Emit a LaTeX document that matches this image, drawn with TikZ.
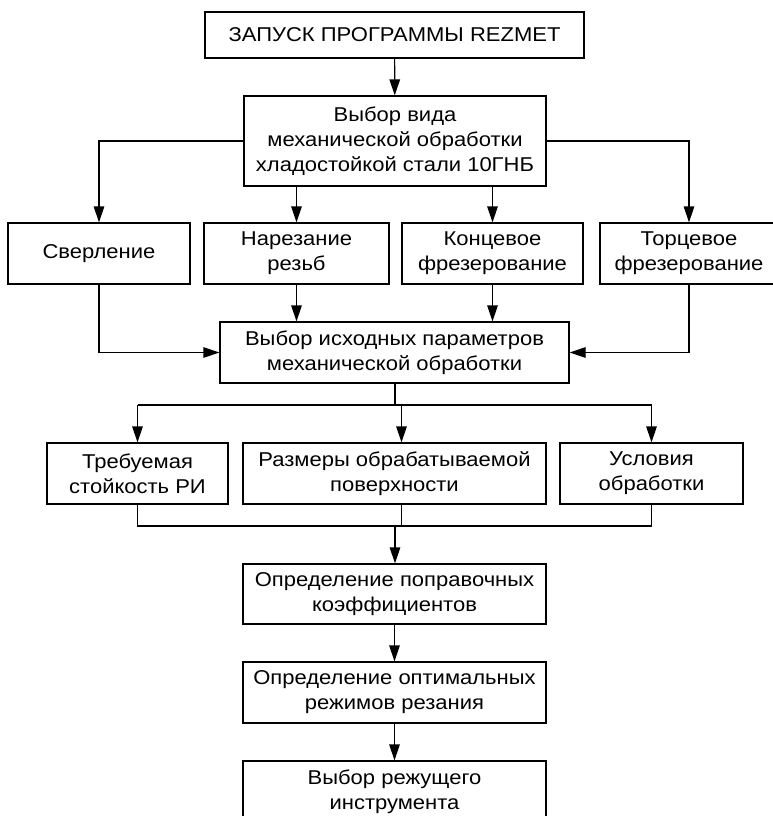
\documentclass[tikz,border=0pt]{standalone}
\usepackage{fontspec}
\setmainfont[FakeStretch=1.1]{Liberation Sans}
\usetikzlibrary{arrows.meta}

\begin{document}
\begin{tikzpicture}[x=1pt,y=-1pt,line width=1.2pt,
  blk/.style={draw,inner sep=0pt,align=center,font=\fontsize{20}{25}\selectfont},
  arr/.style={-{Triangle[length=16pt,width=10.5pt]}}]
  \useasboundingbox (0,0) rectangle (772,816);
  % top
  \node[blk,minimum width=379pt,minimum height=46pt] (start) at (394.5,35) {ЗАПУСК ПРОГРАММЫ REZMET};
  \node[blk,minimum width=302pt,minimum height=90pt] (choice) at (395,141) {Выбор вида\\механической обработки\\хладостойкой стали 10ГНБ};
  % kinds of machining
  \node[blk,minimum width=182pt,minimum height=61pt] (drill) at (99,253.5) {Сверление};
  \node[blk,minimum width=185pt,minimum height=61pt] (thread) at (296.5,253.5) {Нарезание\\резьб};
  \node[blk,minimum width=181pt,minimum height=61pt] (endmill) at (492.5,253.5) {Концевое\\фрезерование};
  \node[blk,minimum width=178pt,minimum height=61pt] (facemill) at (689,253.5) {Торцевое\\фрезерование};
  \node[blk,minimum width=349pt,minimum height=61pt] (params) at (394.5,352.5) {Выбор исходных параметров\\механической обработки};
  % input data
  \node[blk,minimum width=181pt,minimum height=61pt] (life) at (137.5,473.5) {Требуемая\\стойкость РИ};
  \node[blk,minimum width=303pt,minimum height=61pt] (size) at (394.5,473.5) {Размеры обрабатываемой\\поверхности};
  \node[blk,minimum width=183pt,minimum height=61pt] (cond) at (651.5,473.5) {Условия\\обработки};
  % results
  \node[blk,minimum width=303pt,minimum height=60pt] (coef) at (394.5,594) {Определение поправочных\\коэффициентов};
  \node[blk,minimum width=303pt,minimum height=61pt] (modes) at (394.5,692.5) {Определение оптимальных\\режимов резания};
  \node[blk,minimum width=303pt,minimum height=62pt] (tool) at (394.5,792) {Выбор режущего\\инструмента};

  \coordinate (split) at (395,405);
  \coordinate (join) at (395,526);

  \draw[arr] (start) -- (choice);
  \draw[arr] (choice.west) -| (drill.north);
  \draw[arr] (choice.east) -| (facemill.north);
  \draw[arr] (choice.south -| thread.north) -- (thread.north);
  \draw[arr] (choice.south -| endmill.north) -- (endmill.north);
  \draw[arr] (drill.south) |- (params.west);
  \draw[arr] (facemill.south) |- (params.east);
  \draw[arr] (thread.south) -- (thread.south |- params.north);
  \draw[arr] (endmill.south) -- (endmill.south |- params.north);

  \draw (params.south -| split) -- (split);
  \draw (life.north |- split) -- (cond.north |- split);
  \draw[arr] (life.north |- split) -- (life.north);
  \draw[arr] ([xshift=7pt]size.north |- split) -- ([xshift=7pt]size.north);
  \draw[arr] (cond.north |- split) -- (cond.north);

  \draw (life.south) -- (life.south |- join) -- (cond.south |- join) -- (cond.south);
  \draw ([xshift=7pt]size.south) -- ([xshift=7pt]size.south |- join);
  \draw[arr] (join) -- (coef.north -| join);
  \draw[arr] (coef) -- (modes);
  \draw[arr] (modes) -- (tool);
\end{tikzpicture}
\end{document}
